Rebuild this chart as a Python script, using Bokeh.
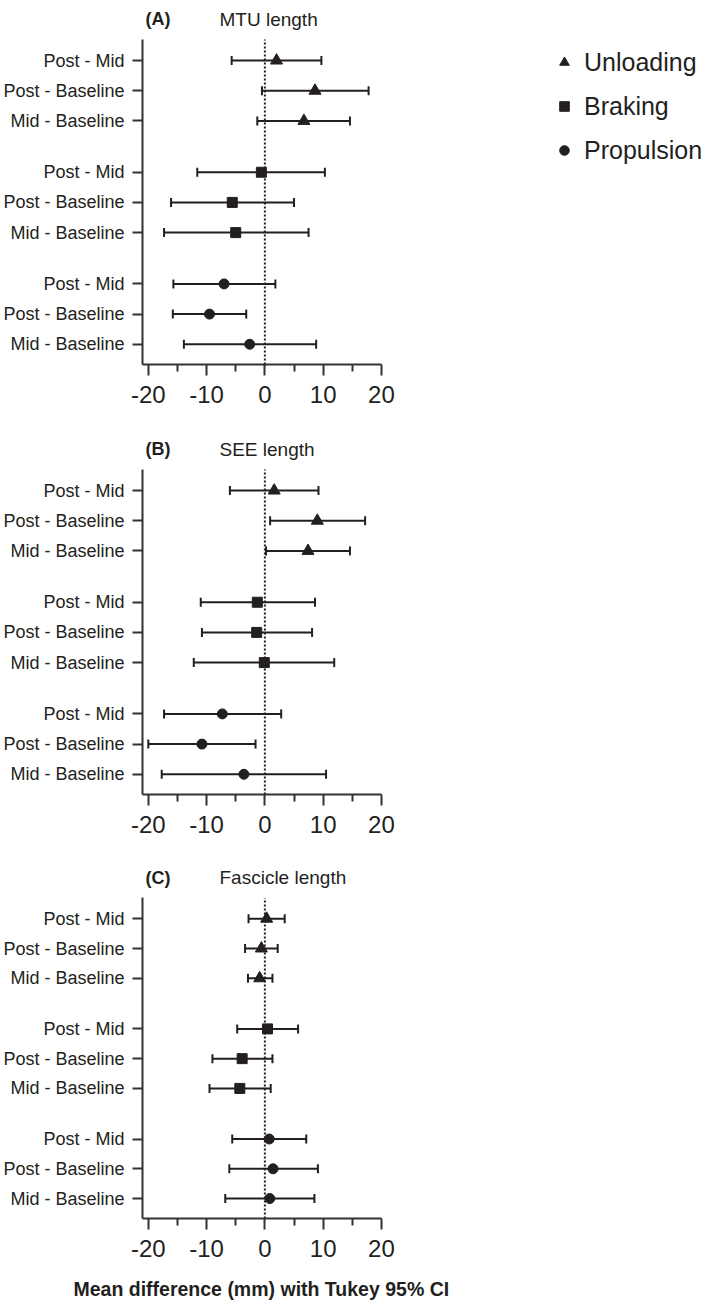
from bokeh.plotting import figure
from bokeh.layouts import column
from bokeh.models import (ColumnDataSource, Whisker, TeeHead, FixedTicker,
                          Range1d, Label, Legend, LegendItem, Title)
from bokeh.embed import file_html
from bokeh.resources import INLINE

# ---------------- data ----------------
conditions = ["Unloading", "Braking", "Propulsion"]
comparisons = ["Post - Mid", "Post - Baseline", "Mid - Baseline"]
x_ticks = [-20, -10, 0, 10, 20]
x_tick_labels = ["-20", "-10", "0", "10", "20"]
x_minor = [-15, -5, 5, 15]
zero_ref = [0]

# rows: Unloading(PM, PB, MB), Braking(PM, PB, MB), Propulsion(PM, PB, MB)
mtu_mean = [2.0, 8.6, 6.7, -0.6, -5.6, -5.0, -7.0, -9.5, -2.6]
mtu_lower = [-5.7, -0.5, -1.3, -11.6, -16.1, -17.3, -15.7, -15.8, -13.9]
mtu_upper = [9.7, 17.8, 14.6, 10.3, 5.0, 7.5, 1.8, -3.2, 8.8]

see_mean = [1.6, 9.0, 7.4, -1.3, -1.4, -0.1, -7.3, -10.8, -3.6]
see_lower = [-6.0, 0.9, 0.2, -11.0, -10.8, -12.2, -17.3, -20.0, -17.7]
see_upper = [9.2, 17.2, 14.6, 8.6, 8.1, 11.9, 2.8, -1.6, 10.5]

fas_mean = [0.3, -0.6, -0.9, 0.45, -3.9, -4.3, 0.75, 1.4, 0.85]
fas_lower = [-2.8, -3.4, -2.9, -4.75, -9.0, -9.5, -5.6, -6.1, -6.8]
fas_upper = [3.4, 2.2, 1.3, 5.7, 1.3, 1.0, 7.1, 9.1, 8.5]

x_title = "Mean difference (mm) with Tukey 95% CI"

# ---------------- style ----------------
INK = "#231f20"
AX = "#333333"
FONT = "Liberation Sans"
GAP = 0.7
markers = {"Unloading": ("triangle", 12), "Braking": ("square", 10), "Propulsion": ("circle", 10)}

row_pos = [round(g * (3 + GAP) + j, 2) for g in range(len(conditions)) for j in range(len(comparisons))]
row_lab = [c for _ in conditions for c in comparisons]
X0, X1 = -21, 20          # axis extent
X_FRAME_END = 76.3        # frame continues to the right (room for legend)
Y_BOT, Y_TOP = 10.07, -0.7
Y_FRAME_TOP = Y_TOP - 1.29  # room above the axis for the panel title


def make_panel(letter, title, mean, lower, upper, height, bottom,
               legend=False, xlabel=None):
    p = figure(width=709, height=height, x_range=Range1d(X0, X_FRAME_END),
               y_range=Range1d(Y_BOT, Y_FRAME_TOP), output_backend="svg",
               toolbar_location=None, min_border_left=141, min_border_right=0,
               min_border_top=0, min_border_bottom=bottom)
    p.outline_line_color = None
    p.grid.visible = False
    p.background_fill_color = "white"
    p.border_fill_color = "white"

    # zero reference line over the axis extent
    p.segment(x0=zero_ref, x1=zero_ref, y0=[Y_BOT], y1=[Y_TOP], line_color=INK,
              line_width=2, line_dash="2 2")

    # error bars
    src = ColumnDataSource(dict(pos=row_pos, mean=mean, lower=lower, upper=upper))
    p.add_layout(Whisker(source=src, base="pos", lower="lower", upper="upper",
                         dimension="width", line_color=INK, line_width=2,
                         lower_head=TeeHead(size=9, line_color=INK, line_width=2),
                         upper_head=TeeHead(size=9, line_color=INK, line_width=2)))

    rends = []
    for g, cond in enumerate(conditions):
        sl = slice(g * 3, g * 3 + 3)
        s = ColumnDataSource(dict(pos=row_pos[sl], mean=mean[sl]))
        mk, sz = markers[cond]
        r = p.scatter(x="mean", y="pos", source=s, marker=mk, size=sz,
                      fill_color=INK, line_color=INK)
        rends.append(r)

    # axes
    xa = p.xaxis[0]
    xa.bounds = (X0, X1)
    xa.ticker = FixedTicker(ticks=x_ticks, minor_ticks=x_minor)
    xa.major_label_overrides = {t: s for t, s in zip(x_ticks, x_tick_labels)}
    xa.axis_line_width = 2
    xa.axis_line_color = AX
    xa.major_tick_line_width = 2
    xa.major_tick_line_color = AX
    xa.minor_tick_line_width = 2
    xa.minor_tick_line_color = AX
    xa.major_tick_out = 11
    xa.major_tick_in = 0
    xa.minor_tick_out = 7
    xa.minor_tick_in = 0
    xa.major_label_standoff = 10
    xa.major_label_text_font = FONT
    xa.major_label_text_font_size = "24px"
    xa.major_label_text_color = INK

    ya = p.yaxis[0]
    ya.bounds = (Y_TOP, Y_BOT)
    ya.ticker = FixedTicker(ticks=row_pos)
    ya.major_label_overrides = {pos: lab for pos, lab in zip(row_pos, row_lab)}
    ya.axis_line_width = 2
    ya.axis_line_color = AX
    ya.major_tick_line_width = 2
    ya.major_tick_line_color = AX
    ya.major_tick_out = 10
    ya.major_tick_in = 0
    ya.minor_tick_line_color = None
    ya.major_label_standoff = 8
    ya.major_label_text_font = FONT
    ya.major_label_text_font_size = "18px"
    ya.major_label_text_color = INK

    if xlabel:
        p.add_layout(Title(text=xlabel, align="left", offset=-69, standoff=32,
                           text_font=FONT, text_font_size="19.5px",
                           text_font_style="bold", text_color=INK), "below")

    p.add_layout(Label(x=X0, y=Y_TOP, x_offset=3, y_offset=20, text=letter,
                       text_font=FONT, text_font_size="18px", text_font_style="bold",
                       text_baseline="middle", text_color=INK))
    p.add_layout(Label(x=X0, y=Y_TOP, x_offset=77, y_offset=20, text=title,
                       text_font=FONT, text_font_size="19px",
                       text_baseline="middle", text_color=INK))

    if legend:
        fh = height - bottom
        lg = Legend(items=[LegendItem(label=c, renderers=[r]) for c, r in zip(conditions, rends)],
                    location=(410, fh - 165), glyph_width=24, glyph_height=30,
                    label_height=30, spacing=14, label_standoff=8, padding=0, margin=0,
                    border_line_alpha=0, background_fill_alpha=0,
                    label_text_font=FONT, label_text_font_size="25px",
                    label_text_color=INK)
        p.add_layout(lg)
    return p


pA = make_panel("(A)", "MTU length", mtu_mean, mtu_lower, mtu_upper,
                430, 66, legend=True)
pB = make_panel("(B)", "SEE length", see_mean, see_lower, see_upper,
                429, 65)
pC = make_panel("(C)", "Fascicle length", fas_mean, fas_lower, fas_upper,
                456, 92, xlabel=x_title)

root = column(pA, pB, pC, spacing=0)
open("out.html", "w").write(file_html(root, INLINE))
